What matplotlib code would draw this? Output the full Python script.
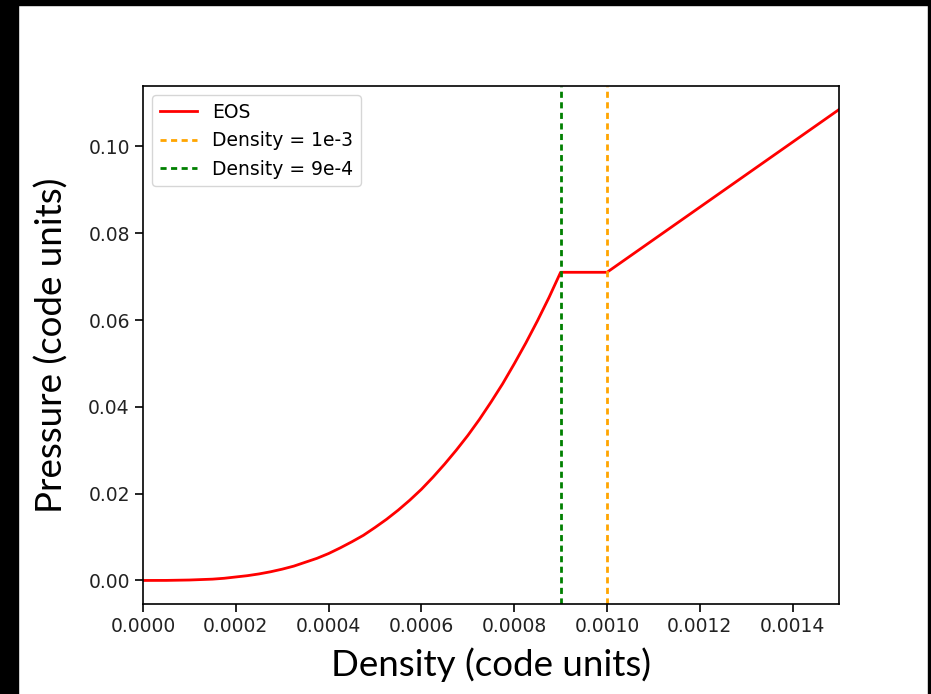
import matplotlib
matplotlib.use("Agg")
import matplotlib.pyplot as plt
from matplotlib.patches import Rectangle

# EOS curve (density, pressure in code units)
density = [0.0, 0.00005, 0.0001, 0.00015, 0.000175, 0.0002, 0.000225,
           0.00025, 0.000275, 0.0003, 0.000325, 0.00035, 0.000375,
           0.0004, 0.000425, 0.00045, 0.000475, 0.0005, 0.000525,
           0.00055, 0.000575, 0.0006, 0.000625, 0.00065, 0.000675,
           0.0007, 0.000725, 0.00075, 0.000775, 0.0008, 0.000825,
           0.00085, 0.000875, 0.0009, 0.0010, 0.0015]
pressure = [0.0, 0.00001, 0.0001, 0.0003, 0.0005, 0.0008, 0.0011,
            0.0015, 0.0020, 0.0026, 0.0033, 0.0042, 0.0051,
            0.0062, 0.0075, 0.0089, 0.0104, 0.0122, 0.0141,
            0.0162, 0.0185, 0.0210, 0.0238, 0.0268, 0.0300,
            0.0334, 0.0371, 0.0411, 0.0453, 0.0499, 0.0547,
            0.0598, 0.0652, 0.0710, 0.0710, 0.1085]

vlines = [1e-3, 9e-4]
vline_labels = ["Density = 1e-3", "Density = 9e-4"]
vline_colors = ["orange", "green"]

fig = plt.figure(figsize=(9.31, 6.94), dpi=100)
ax = fig.add_axes([0.1536, 0.1297, 0.7476, 0.7464])

ax.plot(density, pressure, color="red", lw=2, label="EOS")
for x, lab, c in zip(vlines, vline_labels, vline_colors):
    ax.axvline(x, color=c, lw=2, dashes=(2.2, 1.6), label=lab)

ax.set_xlim(0, 0.0015)
ax.tick_params(labelsize=13.5, length=6, width=1.2, labelcolor="#222222")
for s in ax.spines.values():
    s.set_linewidth(1.2)

ax.legend(loc="upper left", fontsize=13.5)

ax.set_xlabel("Density (code units)", fontsize=26.5, family="Lato", labelpad=8)
ax.set_ylabel("Pressure (code units)", fontsize=26.5, family="Lato", labelpad=14)

# black screenshot border
fig.patches.append(Rectangle((0, 0), 18 / 931, 1, transform=fig.transFigure,
                             color="black", zorder=10))
fig.patches.append(Rectangle((0, 1 - 5 / 694), 1, 5 / 694, transform=fig.transFigure,
                             color="black", zorder=10))
fig.patches.append(Rectangle((1 - 3 / 931, 0), 3 / 931, 1, transform=fig.transFigure,
                             color="black", zorder=10))

fig.savefig("out.png", dpi=100)
